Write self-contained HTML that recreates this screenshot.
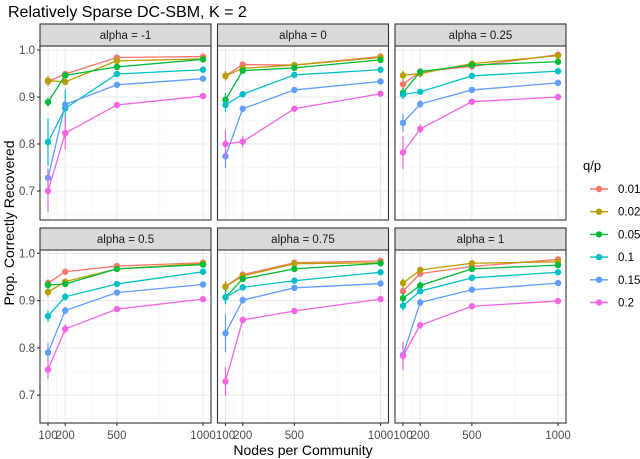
<!DOCTYPE html>
<html><head><meta charset="utf-8"><style>
body{margin:0;background:#fff;}
svg{display:block;font-family:"Liberation Sans",sans-serif;}
</style></head><body>
<svg id="chart" width="640" height="459" viewBox="0 0 640 459">
<text x="8" y="17" font-size="16" fill="#000">Relatively Sparse DC-SBM, K = 2</text>
<text x="303" y="455" font-size="14" text-anchor="middle" fill="#000">Nodes per Community</text>
<text transform="translate(14,223) rotate(-90)" font-size="14" text-anchor="middle" fill="#000">Prop. Correctly Recovered</text>
<g id="panels"></g>
<g id="legend">
<text x="583" y="170" font-size="13" fill="#000">q/p</text>
</g>
</svg>
<script>
const nodes=[100,200,500,1000];
const qp=["0.01","0.02","0.05","0.1","0.15","0.2"];
const colors=["#F8766D","#B79F00","#00BA38","#00BFC4","#619CFF","#F564E3"];
const alphas=["-1","0","0.25","0.5","0.75","1"];
const xTicks=[100,200,500,1000];
const yTicks=[0.7,0.8,0.9,1.0];
// values[panel][series][node]
const vA1=[[0.933,0.949,0.984,0.986],[0.935,0.932,0.977,0.981],[0.889,0.946,0.964,0.980],[0.804,0.876,0.949,0.958],[0.728,0.884,0.926,0.939],[0.700,0.823,0.883,0.902]];
const vA0=[[0.945,0.969,0.968,0.986],[0.945,0.961,0.968,0.984],[0.894,0.956,0.962,0.979],[0.883,0.906,0.947,0.958],[0.774,0.875,0.915,0.933],[0.800,0.805,0.875,0.907]];
const vA025=[[0.927,0.954,0.965,0.990],[0.946,0.950,0.971,0.988],[0.909,0.954,0.968,0.975],[0.905,0.911,0.945,0.955],[0.845,0.885,0.915,0.930],[0.782,0.832,0.890,0.900]];
const vA05=[[0.937,0.961,0.973,0.980],[0.918,0.940,0.967,0.978],[0.933,0.935,0.967,0.976],[0.867,0.908,0.935,0.961],[0.790,0.879,0.917,0.934],[0.754,0.840,0.882,0.903]];
const vA075=[[0.930,0.955,0.980,0.984],[0.929,0.952,0.978,0.980],[0.907,0.946,0.967,0.979],[0.907,0.928,0.942,0.960],[0.831,0.901,0.927,0.936],[0.729,0.859,0.878,0.903]];
const vA1p=[[0.920,0.957,0.972,0.987],[0.937,0.965,0.979,0.982],[0.905,0.932,0.967,0.975],[0.889,0.920,0.948,0.960],[0.785,0.896,0.923,0.937],[0.783,0.848,0.888,0.899]];
const values=[vA1,vA0,vA025,vA05,vA075,vA1p];
// error half-widths at n=100 and n=200 (per panel, per series)
const err100=[[0.01,0.01,0.01,0.05,0.02,0.045],[0.01,0.01,0.015,0.015,0.025,0.03],[0.01,0.01,0.01,0.01,0.02,0.035],[0.008,0.01,0.01,0.012,0.02,0.02],[0.01,0.012,0.012,0.015,0.04,0.03],[0.01,0.01,0.012,0.01,0.02,0.03]];
const err200=[[0.005,0.005,0.005,0.04,0.01,0.035],[0.005,0.005,0.005,0.005,0.005,0.012],[0.005,0.008,0.005,0.005,0.008,0.01],[0.005,0.005,0.005,0.008,0.008,0.01],[0.005,0.005,0.005,0.005,0.008,0.008],[0.005,0.005,0.008,0.005,0.008,0.008]];

const NS="http://www.w3.org/2000/svg";
function mk(t,a,p){const e=document.createElementNS(NS,t);for(const k in a)e.setAttribute(k,a[k]);p.appendChild(e);return e;}
const colX=[40,217.5,395], W=171;
const rowT=[24,228], stripH=22, dataH=[174,173];
const panelsG=document.getElementById('panels');
function xScale(c,n){return colX[c]+8+(n-100)/900*155;}
function yScale(r,v){const top=rowT[r]+stripH; const y1=top+4+(r?-0.7:0); return y1+(1-v)*470*(r?1.006:1);}
alphas.forEach((al,p)=>{
  const c=p%3,r=Math.floor(p/3);
  const g=mk('g',{},panelsG);
  
  
  const top=rowT[r]+stripH, bot=top+dataH[r];
  mk('rect',{x:colX[c],y:top,width:W,height:dataH[r],fill:'#fff'},g);
  [0.65,0.75,0.85,0.95].forEach(v=>mk('line',{x1:colX[c],x2:colX[c]+W,y1:yScale(r,v),y2:yScale(r,v),stroke:'#F2F2F2','stroke-width':0.6},g));
  [150,350,750].forEach(n=>mk('line',{x1:xScale(c,n),x2:xScale(c,n),y1:top,y2:bot,stroke:'#F2F2F2','stroke-width':0.6},g));
  yTicks.forEach(v=>mk('line',{x1:colX[c],x2:colX[c]+W,y1:yScale(r,v),y2:yScale(r,v),stroke:'#EBEBEB','stroke-width':1.1},g));
  xTicks.forEach(n=>mk('line',{x1:xScale(c,n),x2:xScale(c,n),y1:top,y2:bot,stroke:'#EBEBEB','stroke-width':1.1},g));
  values[p].forEach((s,i)=>{
    const sg=mk('g',{},g);
    
    
    const pts=s.map((v,j)=>xScale(c,nodes[j])+','+yScale(r,v)).join(' ');
    mk('polyline',{points:pts,fill:'none',stroke:colors[i],'stroke-width':1.3},sg);
    [err100[p][i],err200[p][i]].forEach((e,j)=>{
      const x=xScale(c,nodes[j]);
      mk('line',{x1:x,x2:x,y1:yScale(r,s[j]+e),y2:yScale(r,s[j]-e),stroke:colors[i],'stroke-width':1.2},sg);
    });
    s.forEach((v,j)=>{
      const pt=mk('circle',{cx:xScale(c,nodes[j]),cy:yScale(r,v),r:3.2,fill:colors[i]},sg);
      
      
    });
  });
  mk('rect',{x:colX[c],y:top,width:W,height:dataH[r],fill:'none',stroke:'#333','stroke-width':1.1},g);
  mk('rect',{x:colX[c],y:rowT[r],width:W,height:stripH,fill:'#D9D9D9',stroke:'#333','stroke-width':1.1},g);
  const st=mk('text',{x:colX[c]+W/2,y:rowT[r]+15,'font-size':11.5,'text-anchor':'middle',fill:'#1A1A1A'},g);
  st.textContent='alpha = '+al;
  
  
  if(c===0){
    yTicks.forEach(v=>{
      mk('line',{x1:colX[c]-3,x2:colX[c],y1:yScale(r,v),y2:yScale(r,v),stroke:'#333','stroke-width':1.1},g);
      const t=mk('text',{x:colX[c]-5,y:yScale(r,v)+4,'font-size':11.5,'text-anchor':'end',fill:'#4D4D4D'},g);
      t.textContent=v.toFixed(1);
      
      
    });
  }
  if(r===1){
    xTicks.forEach(n=>{
      mk('line',{x1:xScale(c,n),x2:xScale(c,n),y1:bot,y2:bot+3,stroke:'#333','stroke-width':1.1},g);
      const t=mk('text',{x:xScale(c,n),y:bot+16,'font-size':11.5,'text-anchor':'middle',fill:'#4D4D4D'},g);
      t.textContent=n;
      
      
    });
  }
});
const lg=document.getElementById('legend');
qp.forEach((q,i)=>{
  const y=189+i*22.7;
  const eg=mk('g',{},lg);
  
  
  mk('line',{x1:590,x2:608,y1:y,y2:y,stroke:colors[i],'stroke-width':1.4},eg);
  mk('circle',{cx:599,cy:y,r:3.2,fill:colors[i]},eg);
  const t=mk('text',{x:618,y:y+4,'font-size':11.5,fill:'#000'},eg);
  t.textContent=q;
});
</script>
</body></html>
